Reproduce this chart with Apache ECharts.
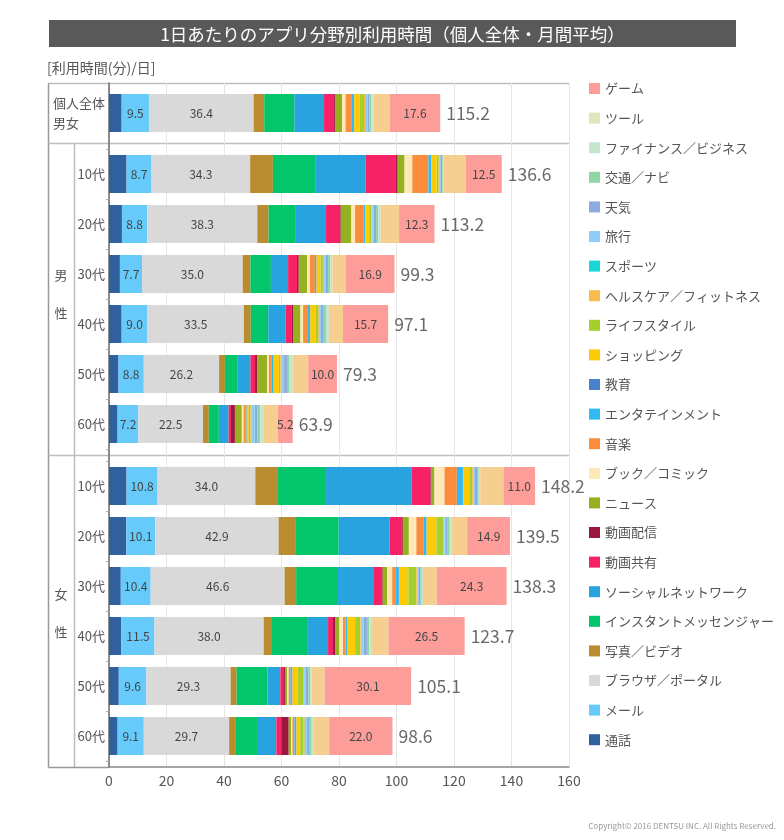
<!DOCTYPE html>
<html><head><meta charset="utf-8">
<script src="https://cdn.jsdelivr.net/npm/echarts@6/dist/echarts.min.js"></script>
<style>html,body{margin:0;padding:0;background:#fff}#c{width:784px;height:840px}</style>
</head><body><div id="c"></div>
<script>
// ---------------- DATA ----------------
const rowLabels = ['個人全体\n男女','10代','20代','30代','40代','50代','60代','10代','20代','30代','40代','50代','60代'];
const groupLabels = ['男性', '女性'];
const titleText = '1日あたりのアプリ分野別利用時間（個人全体・月間平均）';
const unitText = '[利用時間(分)/日]';
const xMin = 0, xMax = 160, xStep = 20;

// rows: 全体, 男10..60, 女10..60
const call      = [4.4, 6.1, 4.5, 3.8, 4.4, 3.3, 3.0, 6.1, 6.0, 4.1, 4.3, 3.4, 3.0];
const mail      = [9.5, 8.7, 8.8, 7.7, 9.0, 8.8, 7.2, 10.8, 10.1, 10.4, 11.5, 9.6, 9.1];
const browser   = [36.4, 34.3, 38.3, 35.0, 33.5, 26.2, 22.5, 34.0, 42.9, 46.6, 38.0, 29.3, 29.7];
const photo     = [3.7, 7.9, 3.9, 2.7, 2.4, 2.0, 2.0, 7.6, 6.0, 4.0, 2.9, 2.1, 2.1];
const messenger = [10.5, 14.7, 9.5, 7.1, 6.1, 4.5, 3.5, 17.0, 14.9, 14.2, 12.2, 10.7, 7.9];
const social    = [10.3, 17.6, 10.5, 6.0, 6.0, 4.4, 3.4, 29.8, 17.7, 12.6, 7.3, 4.5, 6.4];
const videoShare= [3.5, 10.3, 4.6, 3.1, 2.2, 1.6, 0.8, 6.5, 4.3, 2.8, 1.7, 1.0, 1.7];
const videoDist = [0.5, 0.8, 0.5, 0.6, 0.4, 0.7, 1.4, 0.2, 0.3, 0.5, 0.7, 0.6, 2.6];
const news      = [2.3, 2.4, 3.7, 2.9, 2.6, 3.5, 2.4, 1.2, 2.1, 1.6, 1.5, 0.8, 0.8];
const books     = [1.2, 2.7, 1.3, 1.0, 0.9, 0.6, 0.6, 3.5, 2.6, 1.7, 1.3, 0.5, 0.5];
const music     = [2.2, 5.6, 2.9, 1.7, 1.7, 0.9, 0.6, 4.3, 2.6, 1.3, 0.9, 0.6, 0.7];
const entertain = [0.7, 0.9, 0.6, 0.5, 0.7, 0.7, 0.4, 2.1, 0.9, 1.0, 0.6, 0.5, 0.6];
const education = [0.1, 0.1, 0.1, 0.1, 0.1, 0.1, 0.1, 0.1, 0.1, 0.1, 0.1, 0.2, 0.1];
const shopping  = [1.8, 1.9, 1.3, 1.4, 1.9, 1.8, 0.7, 2.1, 3.4, 3.2, 2.6, 1.8, 1.3];
const lifestyle = [1.6, 0.7, 0.7, 0.8, 0.8, 0.5, 0.6, 1.0, 2.3, 2.8, 1.9, 1.9, 1.2];
const health    = [0.5, 0.2, 0.3, 0.3, 0.3, 0.3, 0.4, 0.3, 0.3, 0.3, 0.3, 0.3, 0.4];
const sports    = [0.2, 0.1, 0.1, 0.1, 0.1, 0.1, 0.1, 0.1, 0.1, 0.1, 0.1, 0.1, 0.1];
const travel    = [0.6, 0.3, 0.5, 0.6, 0.6, 0.9, 1.0, 0.6, 0.6, 0.5, 0.7, 0.6, 0.7];
const weather   = [0.6, 0.6, 0.8, 0.8, 1.0, 1.0, 1.0, 0.7, 0.6, 0.5, 1.1, 0.8, 0.9];
const navi      = [0.6, 0.4, 0.8, 0.8, 0.8, 0.9, 0.9, 0.6, 0.7, 0.5, 0.8, 0.6, 0.7];
const finance   = [0.8, 0.2, 0.8, 0.7, 1.0, 1.1, 1.0, 0.5, 0.6, 0.4, 0.7, 0.6, 0.5];
const tools     = [5.6, 7.6, 6.4, 4.7, 4.9, 5.4, 5.1, 8.1, 5.5, 4.8, 6.0, 4.5, 5.6];
const games     = [17.6, 12.5, 12.3, 16.9, 15.7, 10.0, 5.2, 11.0, 14.9, 24.3, 26.5, 30.1, 22.0];
const totals    = [115.2, 136.6, 113.2, 99.3, 97.1, 79.3, 63.9, 148.2, 139.5, 138.3, 123.7, 105.1, 98.6];

const layerNames = ['通話','メール','ブラウザ／ポータル','写真／ビデオ','インスタントメッセンジャー','ソーシャルネットワーク','動画共有','動画配信','ニュース','ブック／コミック','音楽','エンタテインメント','教育','ショッピング','ライフスタイル','ヘルスケア／フィットネス','スポーツ','旅行','天気','交通／ナビ','ファイナンス／ビジネス','ツール','ゲーム'];
const layerData = [call, mail, browser, photo, messenger, social, videoShare, videoDist, news, books, music, entertain, education, shopping, lifestyle, health, sports, travel, weather, navi, finance, tools, games];

// ---------------- STYLE ----------------
const colors = {
  '通話':'#31609f','メール':'#66cbfb','ブラウザ／ポータル':'#d9d9d9','写真／ビデオ':'#b98c2f',
  'インスタントメッセンジャー':'#03c569','ソーシャルネットワーク':'#29a3e0','動画共有':'#f72166','動画配信':'#9b173f',
  'ニュース':'#95b021','ブック／コミック':'#fde8b6','音楽':'#fb8d3d','エンタテインメント':'#2fb9f5','教育':'#4a80cc',
  'ショッピング':'#fccb05','ライフスタイル':'#a6cf2e','ヘルスケア／フィットネス':'#f8bb4e','スポーツ':'#19d7d5',
  '旅行':'#8ecdf8','天気':'#8eabdf','交通／ナビ':'#8ed6a4','ファイナンス／ビジネス':'#c4e6cd','ツール':'#f6cf90','ゲーム':'#fc9d9a'
};
const legendSwatchOverride = {'ツール':'#dde6bd'};
const labeled = new Set(['メール','ブラウザ／ポータル','ゲーム']);
const FONT = '"Noto Sans CJK JP","Noto Sans",sans-serif';
const TXT = '#555';

const gridRanges = [[0,1],[1,7],[7,13]];
const gridBoxes = [
  {left:109, width:460, top:83, height:684},  // background
  {left:109, width:460, top:83, height:60},
  {left:109, width:460, top:149, height:300},
  {left:109, width:460, top:461, height:300}
];

const xAxes = [{
  gridIndex:0, type:'value', min:xMin, max:xMax, interval:xStep,
  axisLine:{show:true, onZero:false, lineStyle:{color:'#888', width:1.5}},
  axisTick:{show:false},
  splitLine:{show:true, lineStyle:{color:'#e6e6e6', width:1}},
  axisLabel:{fontSize:14, color:TXT, margin:7, fontFamily:FONT}
}];
const yAxes = [{
  gridIndex:0, type:'value', min:0, max:1,
  axisLine:{show:true, lineStyle:{color:'#6a6a6a', width:1.5}},
  axisTick:{show:false}, axisLabel:{show:false}, splitLine:{show:false}
}];
const series = [];

gridRanges.forEach(([a,b], gi) => {
  const g = gi + 1;
  xAxes.push({gridIndex:g, type:'value', min:xMin, max:xMax, show:false});
  yAxes.push({
    gridIndex:g, type:'category', inverse:true, data: rowLabels.slice(a,b),
    axisLine:{show:false},
    axisTick:{show: gi>0, length:3, lineStyle:{color:'#aaa'}},
    axisLabel: gi===0
      ? {align:'left', margin:56, fontSize:13, lineHeight:20, color:TXT, fontFamily:FONT}
      : {margin:4, fontSize:13, color:TXT, fontFamily:FONT}
  });
  layerNames.forEach((name, li) => {
    series.push({
      type:'bar', name, stack:'s'+gi, xAxisIndex:g, yAxisIndex:g,
      data: layerData[li].slice(a,b), barWidth:38,
      itemStyle:{color:colors[name]},
      label: labeled.has(name)
        ? {show:true, position:'inside', formatter:p=>p.value.toFixed(1), color:'#444', fontSize:12, fontFamily:FONT}
        : {show:false},
      emphasis:{disabled:true}, animation:false
    });
  });
  series.push({
    type:'scatter', xAxisIndex:g, yAxisIndex:g, symbolSize:0, silent:true, animation:false,
    data: totals.slice(a,b).map((t,i)=>[t,i]),
    label:{show:true, position:'right', distance:6, formatter:p=>p.value[0].toFixed(1), fontSize:17.5, color:'#444', fontFamily:FONT}
  });
});

const legendOrder = layerNames.slice().reverse();

const lineStyleA = {stroke:'#bdbdbd', lineWidth:1.5};
const graphic = [
  {type:'rect', shape:{x:49, y:20, width:687, height:27}, style:{fill:'#595959'}, silent:true},
  {type:'text', x:392.5, y:34, style:{text:titleText, fill:'#fff', font:'17.5px '+FONT, textAlign:'center', textVerticalAlign:'middle', align:'center', verticalAlign:'middle'}, silent:true},
  {type:'text', x:47, y:68, style:{text:unitText, fill:TXT, font:'14px '+FONT, textAlign:'left', textVerticalAlign:'middle', align:'left', verticalAlign:'middle'}, silent:true},
  {type:'line', shape:{x1:48.5, y1:83.5, x2:569, y2:83.5}, style:lineStyleA, silent:true},
  {type:'line', shape:{x1:48.5, y1:83, x2:48.5, y2:767.5}, style:{stroke:'#999', lineWidth:1.5}, silent:true},
  {type:'line', shape:{x1:48.5, y1:143.5, x2:569, y2:143.5}, style:lineStyleA, silent:true},
  {type:'line', shape:{x1:48.5, y1:455.5, x2:569, y2:455.5}, style:lineStyleA, silent:true},
  {type:'line', shape:{x1:74.5, y1:143.5, x2:74.5, y2:767}, style:lineStyleA, silent:true},
  {type:'line', shape:{x1:48.5, y1:767.5, x2:109, y2:767.5}, style:{stroke:'#999', lineWidth:1.5}, silent:true},
  {type:'text', x:776, y:826, style:{text:'Copyright© 2016 DENTSU INC. All Rights Reserved.', fill:'#999', font:'8px '+FONT, textAlign:'right', textVerticalAlign:'middle', align:'right', verticalAlign:'middle'}, silent:true}
];
// group labels (vertical 2-char)
const groupCenters = [[275, 313], [594, 632]];
groupLabels.forEach((lab, i) => {
  [...lab].forEach((ch, k) => {
    graphic.push({type:'text', x:61, y:groupCenters[i][k], style:{text:ch, fill:TXT, font:'13px '+FONT, textAlign:'center', textVerticalAlign:'middle', align:'center', verticalAlign:'middle'}, silent:true});
  });
});

const chart = echarts.init(document.getElementById('c'));
chart.setOption({
  animation:false,
  backgroundColor:'#fff',
  textStyle:{fontFamily:FONT},
  grid: gridBoxes.map(b => Object.assign({containLabel:false}, b)),
  xAxis: xAxes,
  yAxis: yAxes,
  legend:{
    orient:'vertical', left:584, top:77, itemWidth:11, itemHeight:11, itemGap:16.6, icon:'rect',
    selectedMode:false,
    textStyle:{fontSize:13, color:TXT, lineHeight:13, fontFamily:FONT, padding:[0,0,0,0]},
    data: legendOrder.map(n => legendSwatchOverride[n] ? {name:n, itemStyle:{color:legendSwatchOverride[n]}} : n)
  },
  series,
  graphic:{elements:graphic}
});
</script>
</body></html>
